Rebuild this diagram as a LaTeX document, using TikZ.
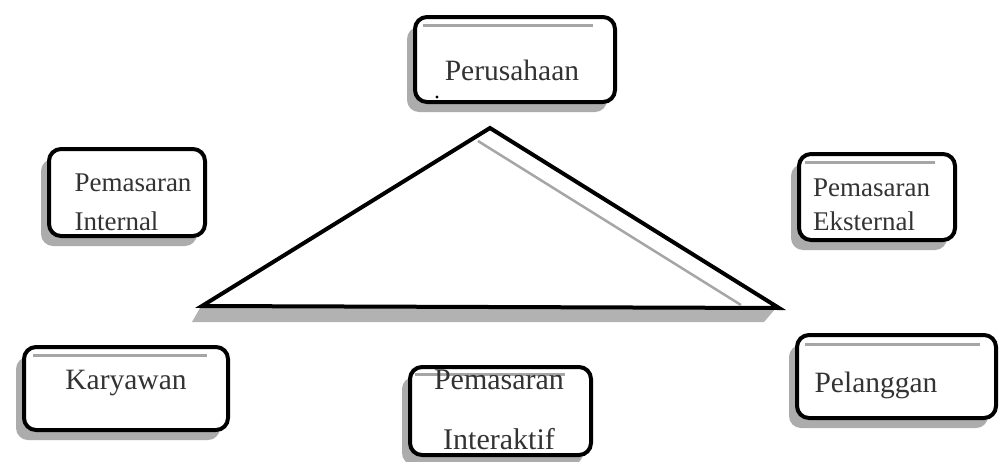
\documentclass[tikz,border=0pt]{standalone}
\usepackage{fontspec}
\setmainfont{Liberation Serif}
\usetikzlibrary{shadows}
\begin{document}
\begin{tikzpicture}[x=1pt,y=-1pt,
  box/.style={draw=black, line width=4pt, rounded corners=12pt, fill=white,
    inner sep=0pt, minimum width=#1,
    drop shadow={shadow xshift=-8pt, shadow yshift=-10pt, fill=gray!65, opacity=1}},
  boxh/.style={minimum height=#1},
  topline/.style={draw=gray!70, line width=3pt},
  lbl/.style={text=black!80, inner sep=0pt, font=\fontsize{29.5}{36}\selectfont},
]
\useasboundingbox[fill=white] (0,0) rectangle (1000,461);

% triangle shadow band
\fill[gray!60] (200,308) -- (776,308) -- (764,322) -- (192,322) -- cycle;
% triangle
\coordinate (apex) at (490,128);
\coordinate (tl) at (202,306);
\coordinate (tr) at (779,308);
\draw[line width=4pt, line join=miter, fill=white] (apex) -- (tr) -- (tl) -- cycle;
\coordinate (ga) at (478,141);
\coordinate (gb) at (741,305);
\draw[gray!70, line width=2.5pt] (ga) -- (gb);

% boxes
\node[box=200pt, boxh=85pt] (per) at (515,59.5) {};
\node[box=156pt, boxh=87pt] (int) at (127,192.5) {};
\node[box=156pt, boxh=86pt] (eks) at (877,197) {};
\node[box=204pt, boxh=83pt] (kar) at (126,388.5) {};
\node[box=181pt, boxh=88pt] (ita) at (500.5,411) {};
\node[box=199pt, boxh=83pt] (pel) at (896.5,376.5) {};

% inner top lines
\draw[topline] ([xshift=10pt,yshift=-10pt]per.north west) -- ([xshift=-24pt,yshift=-10pt]per.north east);
\draw[topline] ([xshift=8pt,yshift=-10pt]eks.north west) -- ([xshift=-22pt,yshift=-10pt]eks.north east);
\draw[topline] ([xshift=11pt,yshift=-10pt]kar.north west) -- ([xshift=-23pt,yshift=-10pt]kar.north east);
\draw[topline] ([xshift=7pt,yshift=-9pt]ita.north west) -- ([xshift=-28pt,yshift=-9pt]ita.north east);
\draw[topline] ([xshift=10pt,yshift=-11pt]pel.north west) -- ([xshift=-18pt,yshift=-11pt]pel.north east);

% dot
\fill[black] (437,97) circle (1.6pt);

% labels
\node[lbl] (tper) at (512,70) {Perusahaan};
\node[lbl, align=left, font=\fontsize{27}{39}\selectfont] (tint) at (133,202.5) {Pemasaran\\Internal};
\node[lbl, align=left, font=\fontsize{27}{34}\selectfont] (teks) at (871.5,205) {Pemasaran\\Eksternal};
\node[lbl] (tkar) at (126,383) {Karyawan};
\node[lbl, align=center, font=\fontsize{30}{60}\selectfont] (tita) at (499,410) {Pemasaran\\Interaktif};
\node[lbl] (tpel) at (876,385) {Pelanggan};
\end{tikzpicture}
\end{document}
